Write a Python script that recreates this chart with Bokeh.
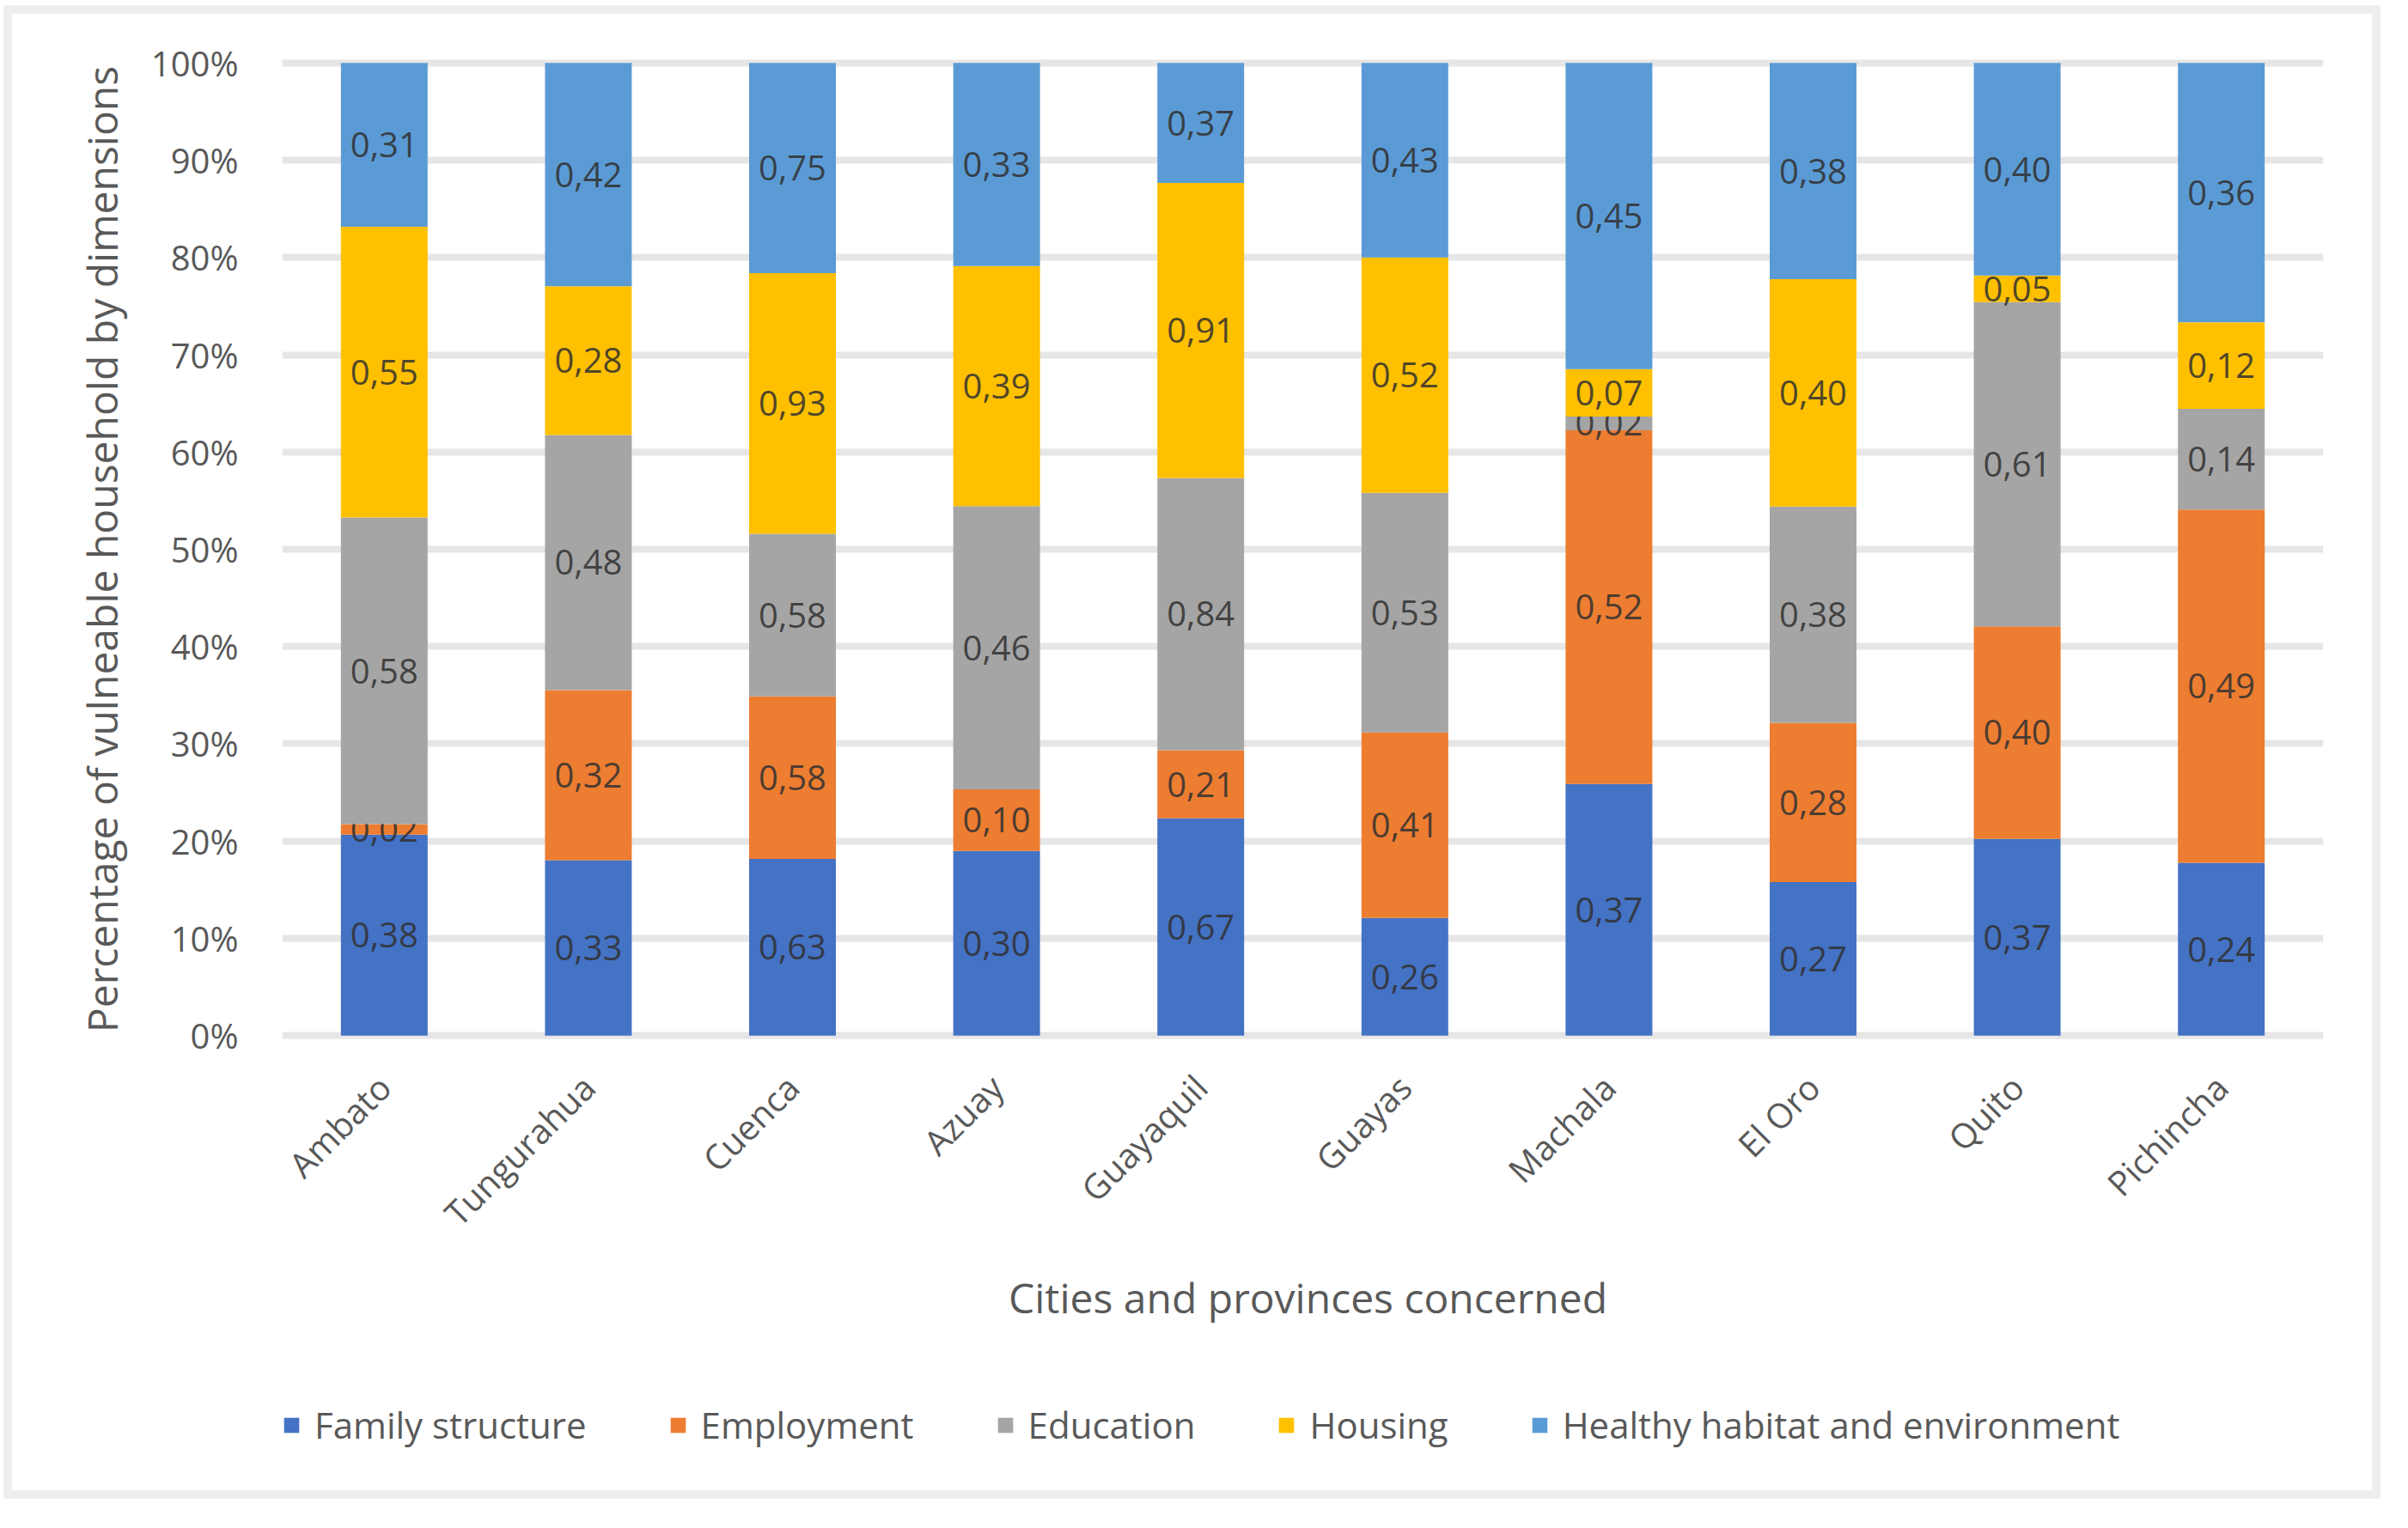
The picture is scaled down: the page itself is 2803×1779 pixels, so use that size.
import math
from bokeh.plotting import figure
from bokeh.layouts import column
from bokeh.models import (Range1d, FactorRange, NumeralTickFormatter, Legend, LegendItem,
                          ColumnDataSource, FixedTicker, Label)
from bokeh.core.properties import value
from bokeh.embed import file_html
from bokeh.resources import INLINE

cities = ["Ambato", "Tungurahua", "Cuenca", "Azuay", "Guayaquil", "Guayas",
          "Machala", "El Oro", "Quito", "Pichincha"]
dimensions = ["Family structure", "Employment", "Education", "Housing",
              "Healthy habitat and environment"]
family = [0.38, 0.33, 0.63, 0.30, 0.67, 0.26, 0.37, 0.27, 0.37, 0.24]
employment = [0.02, 0.32, 0.58, 0.10, 0.21, 0.41, 0.52, 0.28, 0.40, 0.49]
education = [0.58, 0.48, 0.58, 0.46, 0.84, 0.53, 0.02, 0.38, 0.61, 0.14]
housing = [0.55, 0.28, 0.93, 0.39, 0.91, 0.52, 0.07, 0.40, 0.05, 0.12]
healthy = [0.31, 0.42, 0.75, 0.33, 0.37, 0.43, 0.45, 0.38, 0.40, 0.36]
colors = ["#4472C4", "#ED7D31", "#A5A5A5", "#FFC000", "#5B9BD5"]
y_ticks = [0.0, 0.1, 0.2, 0.3, 0.4, 0.5, 0.6, 0.7, 0.8, 0.9, 1.0]
x_title = "Cities and provinces concerned"
y_title = "Percentage of vulneable household by dimensions"

series = [family, employment, education, housing, healthy]
totals = [sum(vals) for vals in zip(*series)]

FONT = "Open Sans"
W = 2747
FRAME_W = 2376
H_MAIN = 1456
H_LEG = 263

p = figure(x_range=FactorRange(*cities, range_padding=0),
           y_range=Range1d(-0.006, 1.006),
           frame_width=FRAME_W, frame_height=1146,
           min_border_left=314, min_border_right=57,
           min_border_top=50, min_border_bottom=H_MAIN - 50 - 1146,
           output_backend="svg", toolbar_location=None,
           background_fill_color="white", border_fill_color="white")
p.outline_line_color = None

bottoms = [0.0] * len(cities)
for name, vals, col in zip(dimensions, series, colors):
    shares = [v / t for v, t in zip(vals, totals)]
    tops = [b + s for b, s in zip(bottoms, shares)]
    src = ColumnDataSource(dict(
        city=cities, bottom=bottoms, top=tops,
        mid=[(b + t) / 2 for b, t in zip(bottoms, tops)],
        label=[f"{v:.2f}".replace(".", ",") for v in vals]))
    p.vbar(x="city", bottom="bottom", top="top", width=0.425, source=src,
           fill_color=col, line_color=None)
    bottoms = tops
    p.text(x="city", y="mid", text="label", source=src,
           text_font=value(FONT), text_font_size="40px", text_color="#303030",
           text_alpha=0.85, text_align="center", text_baseline="middle")

# axes
p.yaxis.ticker = FixedTicker(ticks=y_ticks)
p.yaxis.formatter = NumeralTickFormatter(format="0%")
for ax in (p.xaxis[0], p.yaxis[0]):
    ax.axis_line_color = None
    ax.major_tick_line_color = None
    ax.minor_tick_line_color = None
    ax.major_label_text_font = FONT
    ax.major_label_text_font_size = "40px"
    ax.major_label_text_color = "#595959"
    ax.axis_label_text_font = FONT
    ax.axis_label_text_font_size = "48px"
    ax.axis_label_text_font_style = "normal"
    ax.axis_label_text_color = "#595959"
p.yaxis.major_label_standoff = 45
p.yaxis.axis_label = y_title
p.yaxis.axis_label_standoff = 22
p.xaxis.major_label_orientation = math.pi / 4
p.xaxis.major_label_standoff = 40

p.xgrid.grid_line_color = None
p.ygrid.ticker = FixedTicker(ticks=y_ticks)
p.ygrid.grid_line_color = "#E6E6E6"
p.ygrid.grid_line_width = 8

# lower strip: x-axis title and legend (frame aligned with the main plot,
# ranges in pixel units)
q = figure(width=W, height=H_LEG, x_range=Range1d(0, FRAME_W), y_range=Range1d(0, H_LEG),
           min_border=0, output_backend="svg", toolbar_location=None,
           background_fill_color="white", border_fill_color="white")
q.axis.visible = False
q.grid.visible = False
q.outline_line_color = None

q.add_layout(Label(x=FRAME_W / 2 + 6, y=H_LEG - 38, text=x_title,
                   text_font=FONT, text_font_size="48px", text_color="#595959",
                   text_align="center", text_baseline="middle"))

legend_items = []
for name, col in zip(dimensions, colors):
    # off-screen proxy renderer so the legend swatch gets the series colour
    r = q.vbar(x=[-500], top=[-500], bottom=[-501], width=1,
               fill_color=col, line_color=None)
    legend_items.append(LegendItem(label=name, renderers=[r]))

legend = Legend(items=legend_items, orientation="horizontal", location=(0, 48),
                label_text_font=FONT, label_text_font_size="42px",
                label_text_color="#595959", glyph_width=22, glyph_height=22,
                label_standoff=16, spacing=95, padding=0, margin=0,
                border_line_color=None, background_fill_alpha=0)
q.add_layout(legend)

layout = column(p, q, spacing=0, margin=(16, 0, 0, 14),
                styles={"outline": "10px solid #EEEEEE"})

open("out.html", "w").write(file_html(layout, INLINE))
